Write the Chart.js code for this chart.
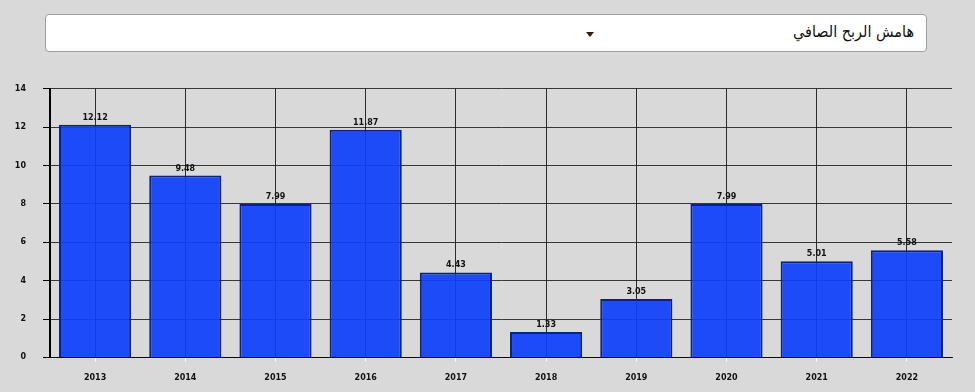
<!DOCTYPE html>
<html>
<head>
<meta charset="utf-8">
<script src="https://cdn.jsdelivr.net/npm/chart.js@4/dist/chart.umd.min.js"></script>
<style>
  html, body { margin: 0; padding: 0; background: #d9d9d9; }
  body { width: 975px; height: 392px; position: relative; overflow: hidden; font-family: "DejaVu Sans", sans-serif; }
  .select {
    position: absolute; left: 45px; top: 14px; width: 880px; height: 36px;
    background: #fff; border: 1px solid #9aa09c; border-radius: 4px;
  }
  .select .label {
    position: absolute; right: 12px; top: 7px; font-size: 16px; color: #111;
    direction: rtl; font-family: "DejaVu Sans Condensed", "DejaVu Sans", sans-serif;
  }
  .select .arrow {
    position: absolute; left: 540px; top: 17px; width: 0; height: 0;
    border-left: 4px solid transparent; border-right: 4px solid transparent;
    border-top: 5px solid #3a1608;
  }
  #wrap { position: absolute; left: 0; top: 67px; width: 975px; height: 328px; }
</style>
</head>
<body>
<div class="select"><span class="label">هامش الربح الصافي</span><span class="arrow"></span></div>
<div id="wrap"><canvas id="chart"></canvas></div>
<script>
const years = ["2013", "2014", "2015", "2016", "2017", "2018", "2019", "2020", "2021", "2022"];
const margins = [12.12, 9.48, 7.99, 11.87, 4.43, 1.33, 3.05, 7.99, 5.01, 5.58];
const valueLabels = ["12.12", "9.48", "7.99", "11.87", "4.43", "1.33", "3.05", "7.99", "5.01", "5.58"];

// writes the value above each bar
const barValues = {
    id: 'barValues',
    afterDatasetsDraw(chart) {
        const ctx = chart.ctx;
        const meta = chart.getDatasetMeta(0);
        ctx.save();
        ctx.font = 'bold 8px "DejaVu Sans"';
        ctx.fillStyle = '#111';
        ctx.textAlign = 'center';
        ctx.textBaseline = 'middle';
        meta.data.forEach((bar, i) => {
            ctx.fillText(valueLabels[i], bar.x, bar.y - 7);
        });
        ctx.restore();
    }
};

new Chart(document.getElementById("chart"), {
    type: 'bar',
    data: {
        labels: years,
        datasets: [{
            data: margins,
            backgroundColor: "rgba(14,64,250,0.93)",
            borderColor: "#0a2380",
            borderWidth: 2,
            barPercentage: 0.8,
            categoryPercentage: 1
        }]
    },
    options: {
        responsive: true,
        maintainAspectRatio: false,
        animation: false,
        layout: {padding: {top: 19.5, right: 23, bottom: 0, left: 0}},
        plugins: {
            legend: {display: false},
            tooltip: {enabled: false}
        },
        scales: {
            x: {
                grid: {
                    offset: false,
                    color: "rgba(0,0,0,0.8)",
                    tickColor: "#fff",
                    tickLength: 4
                },
                border: {display: true, color: "rgba(0,0,0,0.8)"},
                ticks: {
                    color: "#111",
                    font: {family: "DejaVu Sans", size: 8, weight: "bold"},
                    padding: 12
                }
            },
            y: {
                min: 0,
                max: 14,
                afterFit: (scale) => { scale.width = 50; },
                grid: {
                    color: "rgba(0,0,0,0.75)",
                    tickColor: "#000",
                    tickLength: 7
                },
                border: {display: true, color: "#000", width: 2},
                ticks: {
                    stepSize: 2,
                    color: "#111",
                    font: {family: "DejaVu Sans", size: 8, weight: "bold"},
                    padding: 17
                }
            }
        }
    },
    plugins: [barValues]
});
</script>
</body>
</html>
